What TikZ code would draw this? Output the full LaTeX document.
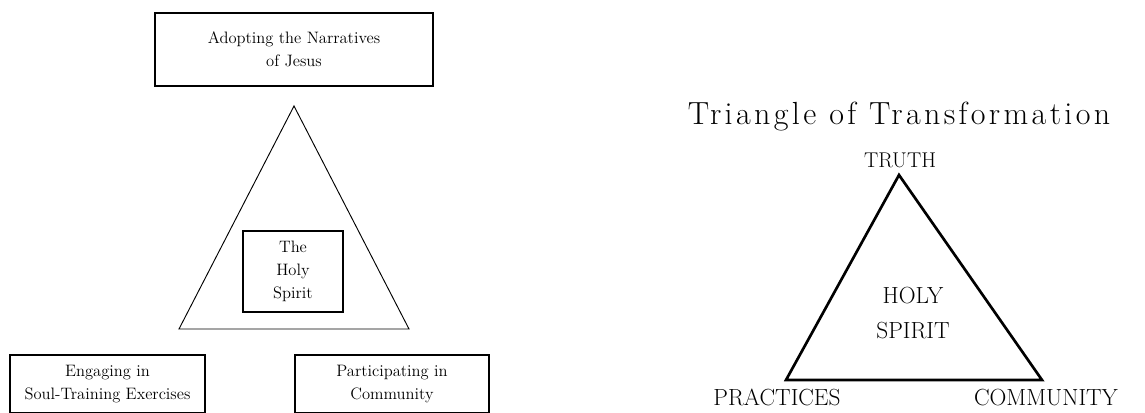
\documentclass[tikz,border=0pt]{standalone}
\usepackage{fontspec}
\newfontfamily\widefont[LetterSpace=10.5]{Latin Modern Roman}
\usetikzlibrary{positioning}

\tikzset{
  box/.style={draw, line width=0.9pt, align=center, inner sep=0pt,
    font=\fontsize{12.4}{17}\selectfont},
  word/.style={inner sep=0pt, anchor=base, font=\fontsize{17.5}{20}\selectfont},
}

\begin{document}
\begin{tikzpicture}[x=0.75pt,y=-0.75pt]
   \useasboundingbox (0,0) rectangle (1145,412);
   % left: the three practices round the spirit
   \node[box, minimum width=208.5pt, minimum height=54.75pt] (narr) at (294,49.5)
     {Adopting the Narratives\\ of Jesus};
   \node[box, minimum width=146.25pt, minimum height=43.5pt] (soul) at (107.5,384)
     {Engaging in\\ Soul-Training Exercises};
   \node[box, minimum width=145.5pt, minimum height=43.5pt] (comm) at (392,384)
     {Participating in\\ Community};
   \coordinate (la) at (294,106);
   \coordinate (lb) at (179,329);
   \coordinate (lc) at (409,329);
   \draw[line width=0.7pt] (la) -- (lb) -- (lc) -- cycle;
   \node[box, line width=0.8pt, minimum width=75pt, minimum height=60.75pt] (spirit) at (293,271.5)
     {The\\ Holy\\ Spirit};
   % right: triangle of transformation
   \node[word, font=\widefont\fontsize{24}{28}\selectfont] (title) at (899,124.5)
     {Triangle of Transformation};
   \node[word, font=\fontsize{16}{20}\selectfont] (truth) at (900,167) {TRUTH};
   \coordinate (ra) at (899,175);
   \coordinate (rb) at (786,380);
   \coordinate (rc) at (1042,380);
   \draw[line width=2pt, line join=miter] (ra) -- (rb) -- (rc) -- cycle;
   \node[word] (holy) at (913,303) {HOLY};
   \node[word] (spir) at (913,338) {SPIRIT};
   \node[word] (prac) at (777,405) {PRACTICES};
   \node[word] (comy) at (1046,405) {COMMUNITY};
\end{tikzpicture}
\end{document}
